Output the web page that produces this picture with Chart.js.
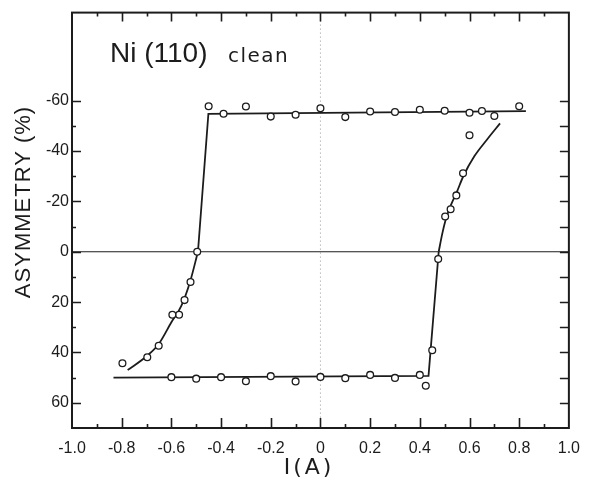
<!DOCTYPE html>
<html>
<head>
<meta charset="utf-8">
<script src="https://cdn.jsdelivr.net/npm/chart.js@4/dist/chart.umd.min.js"></script>
<style>
  html, body { margin: 0; padding: 0; background: #fff; }
</style>
</head>
<body>
<canvas id="chart" width="591" height="487"></canvas>
<script>
// Messpunkte (I in A, Asymmetrie in %)
const topI = [-0.45, -0.39, -0.30, -0.20, -0.10, 0.00, 0.10, 0.20, 0.30, 0.40, 0.50, 0.60, 0.65, 0.70, 0.80];
const topA = [-57.8, -54.8, -57.7, -53.7, -54.4, -57.0, -53.5, -55.7, -55.5, -56.4, -56.0, -55.2, -55.9, -53.9, -57.8];
const bottomI = [-0.60, -0.50, -0.40, -0.30, -0.20, -0.10, 0.00, 0.10, 0.20, 0.30, 0.40];
const bottomA = [49.8, 50.4, 49.8, 51.4, 49.4, 51.5, 49.7, 50.2, 48.9, 50.1, 48.9];
const leftI = [-0.496, -0.523, -0.547, -0.569, -0.596, -0.651, -0.697, -0.797];
const leftA = [0, 12.0, 19.2, 25.0, 25.0, 37.3, 41.9, 44.3];
const rightI = [0.424, 0.45, 0.474, 0.502, 0.524, 0.547, 0.574, 0.60];
const rightA = [53.2, 39.1, 2.9, -14.0, -16.9, -22.4, -31.2, -46.3];

// Kurven
const fitLeftI = [-0.776, -0.70, -0.65, -0.60, -0.56, -0.525, -0.493];
const fitLeftA = [47, 41.5, 36.5, 28, 21.5, 12, 0];
const jumpUpI = [-0.493, -0.451, 0.827];
const jumpUpA = [0, -54.8, -55.9];
const lowLineI = [-0.833, 0.435, 0.476];
const lowLineA = [50, 49.3, 0];
const fitRightI = [0.476, 0.49, 0.505, 0.525, 0.55, 0.575, 0.62, 0.67, 0.723];
const fitRightA = [0, -7, -13, -18.5, -24, -30, -38, -44.5, -51];

// Achsen
const xTickVals = [-1.0, -0.8, -0.6, -0.4, -0.2, 0, 0.2, 0.4, 0.6, 0.8, 1.0];
const xTickLabels = ['-1.0', '-0.8', '-0.6', '-0.4', '-0.2', '0', '0.2', '0.4', '0.6', '0.8', '1.0'];
const yTickVals = [-60, -40, -20, 0, 20, 40, 60];
const yTickLabels = ['-60', '-40', '-20', '0', '20', '40', '60'];

const ink = '#1c1c1c';

function pts(xs, ys) {
  return xs.map((v, i) => ({x: v, y: ys[i]}));
}

const allPts = pts(topI, topA).concat(pts(bottomI, bottomA), pts(leftI, leftA), pts(rightI, rightA));

// Rahmen, Ticks nach innen, Beschriftungen
const framePlugin = {
  id: 'frame',
  afterDatasetsDraw(chart) {
    const {ctx, chartArea: a, scales: {x, y}} = chart;
    ctx.save();
    ctx.strokeStyle = ink;
    ctx.lineWidth = 1.6;
    ctx.beginPath();
    for (let v = -60; v <= 60; v += 10) {
      const py = Math.round(y.getPixelForValue(v)) + 0.5;
      ctx.moveTo(a.left, py); ctx.lineTo(a.left + (v % 20 === 0 ? 9 : 4), py);
      ctx.moveTo(a.right, py); ctx.lineTo(a.right - 9, py);
    }
    for (let i = -9; i <= 9; i++) {
      const px = Math.round(x.getPixelForValue(i / 10)) + 0.5;
      const major = i % 2 === 0;
      ctx.moveTo(px, a.bottom); ctx.lineTo(px, a.bottom - (major ? 10 : 4));
      ctx.moveTo(px, a.top); ctx.lineTo(px, a.top + (major ? 9 : 4));
    }
    ctx.stroke();
    ctx.lineWidth = 2;
    ctx.strokeRect(a.left, a.top, a.right - a.left, a.bottom - a.top);

    ctx.fillStyle = ink;
    ctx.textBaseline = 'alphabetic';
    ctx.textAlign = 'left';
    ctx.font = '28px "Liberation Sans"';
    ctx.fillText('Ni (110)', a.left + 38, a.top + 49);
    ctx.font = '20px "DejaVu Sans"';
    ctx.letterSpacing = '1.5px';
    ctx.fillText('clean', a.left + 156, a.top + 49);

    ctx.letterSpacing = '3px';
    ctx.textAlign = 'center';
    ctx.font = '22px "DejaVu Sans"';
    ctx.fillText('I(A)', 309, 474);

    ctx.letterSpacing = '1px';
    ctx.translate(24, 202);
    ctx.rotate(-Math.PI / 2);
    ctx.textBaseline = 'middle';
    ctx.font = '22px "Liberation Sans"';
    ctx.fillText('ASYMMETRY (%)', 0, 0);
    ctx.restore();
  }
};

new Chart(document.getElementById('chart'), {
  type: 'scatter',
  data: {
    datasets: [
      {
        label: 'Messung',
        data: allPts,
        pointStyle: 'circle',
        pointRadius: 3.4,
        pointBorderWidth: 1.3,
        pointBorderColor: ink,
        pointBackgroundColor: '#fff',
        showLine: false
      },
      {
        data: pts(fitLeftI, fitLeftA),
        showLine: true, pointRadius: 0, borderColor: ink, borderWidth: 1.8,
        cubicInterpolationMode: 'monotone'
      },
      {
        data: pts(jumpUpI, jumpUpA),
        showLine: true, pointRadius: 0, borderColor: ink, borderWidth: 1.8, tension: 0
      },
      {
        data: pts(lowLineI, lowLineA),
        showLine: true, pointRadius: 0, borderColor: ink, borderWidth: 1.8, tension: 0
      },
      {
        data: pts(fitRightI, fitRightA),
        showLine: true, pointRadius: 0, borderColor: ink, borderWidth: 1.8,
        cubicInterpolationMode: 'monotone'
      },
      {
        // Nulllinie
        data: [{x: -1, y: 0}, {x: 1, y: 0}],
        showLine: true, pointRadius: 0, borderColor: ink, borderWidth: 1.2
      },
      {
        // gestrichelte Linie bei I = 0
        data: [{x: 0, y: -95}, {x: 0, y: 70}],
        showLine: true, pointRadius: 0, borderColor: '#9a9a9a', borderWidth: 1, borderDash: [1, 3]
      }
    ]
  },
  options: {
    responsive: false,
    devicePixelRatio: 1,
    animation: false,
    layout: {padding: {left: 0, right: 14, top: 7, bottom: 0}},
    plugins: {legend: {display: false}, tooltip: {enabled: false}},
    scales: {
      x: {
        type: 'linear', min: -1, max: 1,
        grid: {display: false, drawTicks: false},
        border: {display: false},
        afterBuildTicks: s => { s.ticks = xTickVals.map(v => ({value: v})); },
        afterFit: s => { s.height = 59; },
        ticks: {
          padding: 11, color: ink, maxRotation: 0, autoSkip: false,
          font: {family: 'Liberation Sans', size: 16},
          callback: (v, i) => xTickLabels[i]
        }
      },
      y: {
        type: 'linear', min: -95, max: 70, reverse: true,
        grid: {display: false, drawTicks: false},
        border: {display: false},
        afterBuildTicks: s => { s.ticks = yTickVals.map(v => ({value: v})); },
        afterFit: s => { s.width = 72; },
        ticks: {
          padding: 3, color: ink,
          font: {family: 'Liberation Sans', size: 16},
          callback: (v, i) => yTickLabels[i]
        }
      }
    }
  },
  plugins: [framePlugin]
});
</script>
</body>
</html>
